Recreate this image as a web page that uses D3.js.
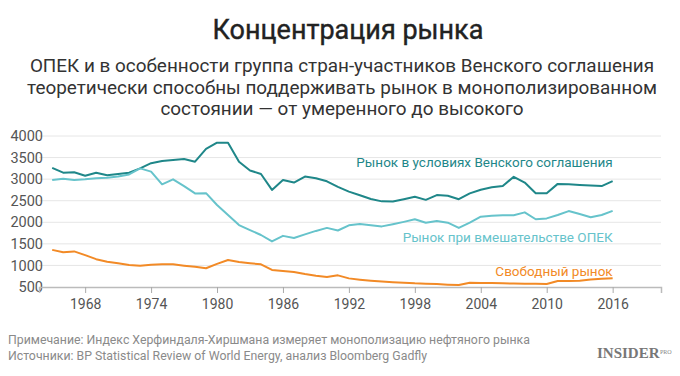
<!DOCTYPE html>
<html>
<head>
<meta charset="utf-8">
<script src="https://cdn.jsdelivr.net/npm/d3@7"></script>
<style>
  body { margin: 0; background: #fff; }
  svg { font-family: Roboto, "Noto Sans", sans-serif; }
</style>
</head>
<body>
<div id="chart"></div>
<script>
// Data (Herfindahl-Hirschman index)
const years = [1965, 1966, 1967, 1968, 1969, 1970, 1971, 1972, 1973, 1974, 1975, 1976, 1977,
  1978, 1979, 1980, 1981, 1982, 1983, 1984, 1985, 1986, 1987, 1988, 1989, 1990, 1991, 1992,
  1993, 1994, 1995, 1996, 1997, 1998, 1999, 2000, 2001, 2002, 2003, 2004, 2005, 2006, 2007,
  2008, 2009, 2010, 2011, 2012, 2013, 2014, 2015, 2016];

const vienna = [3260, 3150, 3160, 3080, 3150, 3090, 3120, 3150, 3250, 3370, 3420, 3445, 3465,
  3405, 3700, 3845, 3845, 3405, 3200, 3120, 2750, 2980, 2920, 3060, 3020, 2950, 2820, 2710,
  2625, 2540, 2485, 2480, 2535, 2590, 2520, 2630, 2615, 2535, 2670, 2755, 2810, 2840, 3055,
  2920, 2675, 2675, 2890, 2880, 2865, 2855, 2840, 2955];

const opec = [2980, 3010, 2980, 2995, 3020, 3035, 3060, 3110, 3250, 3175, 2880, 2995, 2840,
  2670, 2675, 2400, 2170, 1935, 1820, 1705, 1555, 1685, 1635, 1720, 1800, 1870, 1810, 1930,
  1960, 1930, 1905, 1955, 2010, 2070, 1990, 2030, 1990, 1870, 1990, 2130, 2150, 2165, 2165,
  2230, 2070, 2090, 2170, 2260, 2190, 2115, 2170, 2265];

const freeMarket = [1360, 1305, 1325, 1240, 1145, 1085, 1050, 1010, 995, 1015, 1025, 1025, 995,
  970, 935, 1035, 1125, 1080, 1050, 1025, 895, 870, 850, 800, 760, 730, 770, 700,
  670, 645, 625, 610, 600, 585, 578, 570, 555, 545, 600, 595, 590, 585, 582,
  578, 575, 570, 640, 640, 645, 675, 690, 700];

const xTicks = [1968, 1974, 1980, 1986, 1992, 1998, 2004, 2010, 2016];
const yTicks = [500, 1000, 1500, 2000, 2500, 3000, 3500, 4000];

const seriesNames = ['Рынок в условиях Венского соглашения', 'Рынок при вмешательстве ОПЕК', 'Свободный рынок'];
const seriesColors = ['#1f8789', '#66c3cb', '#f28a26'];

const titleText = 'Концентрация рынка';
const subtitleLines = [
  'ОПЕК и в особенности группа стран-участников Венского соглашения',
  'теоретически способны поддерживать рынок в монополизированном',
  'состоянии — от умеренного до высокого'
];
const noteLines = [
  'Примечание: Индекс Херфиндаля-Хиршмана измеряет монополизацию нефтяного рынка',
  'Источники: BP Statistical Review of World Energy, анализ Bloomberg Gadfly'
];

const width = 680, height = 376;

const svg = d3.select('#chart').append('svg')
  .attr('width', width)
  .attr('height', height);

// Scales
const xScale = d3.scaleLinear()
  .domain([1963.8, 2020.4])
  .range([39, 661]);

const yScale = d3.scaleLinear()
  .domain([500, 4000])
  .range([287, 136]);

// Title + subtitle
svg.append('text')
  .attr('x', 348)
  .attr('y', 39)
  .attr('text-anchor', 'middle')
  .attr('font-size', 27)
  .attr('font-weight', 'normal')
  .attr('fill', '#222')
  .attr('stroke', '#222')
  .attr('stroke-width', 0.4)
  .text(titleText);

svg.append('g')
  .selectAll('text')
  .data(subtitleLines)
  .join('text')
  .attr('x', 342)
  .attr('y', (d, i) => 72 + i * 21.5)
  .attr('text-anchor', 'middle')
  .attr('font-size', 18.9)
  .attr('fill', '#333')
  .text(d => d);

// Gridlines
svg.append('g')
  .selectAll('line')
  .data(yTicks.filter(d => d > 500))
  .join('line')
  .attr('x1', 39)
  .attr('x2', 661)
  .attr('y1', d => yScale(d))
  .attr('y2', d => yScale(d))
  .attr('stroke', '#e6e6e6')
  .attr('stroke-width', 1);

// Y axis labels
const yAxis = d3.axisLeft(yScale).tickValues(yTicks).tickFormat(d3.format('d')).tickSize(0).tickPadding(0);
const yAxisGroup = svg.append('g')
  .attr('transform', 'translate(43,0)')
  .call(yAxis);
yAxisGroup.select('.domain').remove();
yAxisGroup.selectAll('text')
  .attr('font-family', 'Roboto, sans-serif')
  .attr('font-size', 14.5)
  .attr('fill', '#555');

// X axis
const xAxis = d3.axisBottom(xScale).tickValues(xTicks).tickFormat(d3.format('d')).tickSize(6).tickPadding(6);
const xAxisGroup = svg.append('g')
  .attr('transform', `translate(0, ${yScale(500)})`)
  .call(xAxis);
xAxisGroup.select('.domain').attr('stroke', '#bbb').attr('stroke-width', 1.5);
xAxisGroup.selectAll('.tick line').attr('stroke', '#aaa');
xAxisGroup.selectAll('text')
  .attr('font-family', 'Roboto, sans-serif')
  .attr('font-size', 14)
  .attr('fill', '#555');

// Lines
const line = d3.line()
  .x((d, i) => xScale(years[i]))
  .y(d => yScale(d));

const allSeries = [vienna, opec, freeMarket];

svg.append('g')
  .selectAll('path')
  .data(allSeries)
  .join('path')
  .attr('d', d => line(d))
  .attr('fill', 'none')
  .attr('stroke', (d, i) => seriesColors[i])
  .attr('stroke-width', 2)
  .attr('stroke-linejoin', 'round');

// Series labels, right aligned at last year
const labelY = [167, 242, 276];
svg.append('g')
  .selectAll('text')
  .data(seriesNames)
  .join('text')
  .attr('x', xScale(2016))
  .attr('y', (d, i) => labelY[i])
  .attr('text-anchor', 'end')
  .attr('font-size', 13.5)
  .attr('fill', (d, i) => seriesColors[i])
  .text(d => d);

// Footer notes
svg.append('g')
  .selectAll('text')
  .data(noteLines)
  .join('text')
  .attr('x', 8)
  .attr('y', (d, i) => 344 + i * 16)
  .attr('font-size', 12.3)
  .attr('fill', '#8a8a8a')
  .text(d => d);

// Logo
const logo = svg.append('g').attr('transform', 'translate(597, 358)');
logo.append('text')
  .attr('font-family', '"Liberation Serif", "DejaVu Serif", serif')
  .attr('font-weight', 'bold')
  .attr('font-size', 15)
  .attr('fill', '#777')
  .text('INSIDER');
logo.append('text')
  .attr('x', 63)
  .attr('y', -4)
  .attr('font-family', '"Liberation Serif", serif')
  .attr('font-size', 6)
  .attr('fill', '#888')
  .text('PRO');
</script>
</body>
</html>
